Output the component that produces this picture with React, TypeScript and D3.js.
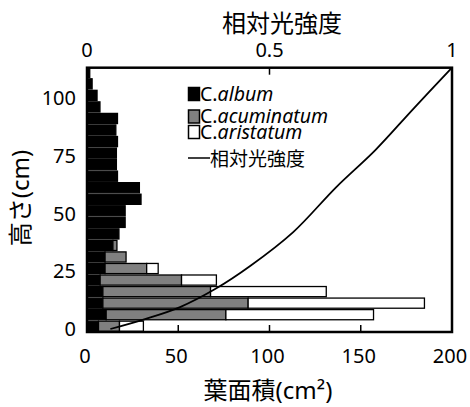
import React from "react";
import * as d3 from "d3";

// height bins (lower edge, cm), 5 cm each
const binStarts = [0, 5, 10, 15, 20, 25, 30, 35, 40, 45, 50, 55, 60, 65, 70, 75, 80, 85, 90, 95, 100, 105, 110];
const album = [6.3, 10.5, 8.7, 8.7, 7.2, 9.9, 9.9, 14.2, 17.5, 20.9, 20.9, 29.6, 28.7, 16.7, 16.1, 16.1, 16.7, 15.8, 16.7, 7.1, 5.5, 2.8, 1.5];
const acuminatum = [11.5, 65.6, 79.6, 59, 44.6, 22.8, 11.5, 2.2, 0, 0, 0, 0, 0, 0, 0, 0, 0, 0, 0, 0, 0, 0, 0];
const aristatum = [13.1, 80.9, 96.6, 63.4, 19.1, 6.3, 0, 0, 0, 0, 0, 0, 0, 0, 0, 0, 0, 0, 0, 0, 0, 0, 0];

const lightHeights = [1.3, 5.6, 10.8, 18.6, 28.6, 43.3, 62.8, 78.8, 97, 114.5];
const lightValues = [0.064, 0.159, 0.255, 0.351, 0.447, 0.565, 0.683, 0.79, 0.896, 1.0];

const yTicks = [0, 25, 50, 75, 100];
const xTicks = [0, 50, 100, 150, 200];
const topTicks = [0, 0.5, 1];
const topTickLabels = ["0", "0.5", "1"];

const FONT = "'Noto Sans', 'Noto Sans CJK JP', sans-serif";

export default function App() {
  const left = 87, right = 452, top = 67.7, bottom = 332;
  const x = d3.scaleLinear().domain([0, 200]).range([left, right]);
  const xl = d3.scaleLinear().domain([0, 1]).range([left, right]);
  const y = d3.scaleLinear().domain([0, 114.5]).range([bottom, top]);
  const binH = 5;
  const gap = 1.4;

  const rows = binStarts.map((b, i) => ({
    b,
    a: album[i],
    c: acuminatum[i],
    r: aristatum[i],
  }));

  const line = d3
    .line<number>()
    .x((_, i) => xl(lightValues[i]))
    .y((h) => y(h))
    .curve(d3.curveCatmullRom.alpha(0.5));

  const barRect = (x0: number, x1: number, b: number, fill: string, key: string) => {
    if (x1 - x0 <= 0) return null;
    const yTop = Math.max(y(b + binH), top);
    const yBot = y(b);
    return (
      <rect
        key={key}
        x={x(x0)}
        y={yTop + gap / 2}
        width={x(x1) - x(x0)}
        height={yBot - yTop - gap}
        fill={fill}
        stroke="#000"
        strokeWidth={1.3}
      />
    );
  };

  return (
    <svg
      width={470}
      height={407}
      style={{ position: "absolute", left: 0, top: 0, background: "#fff" }}
      fontFamily={FONT}
    >
      <rect x={0} y={0} width={470} height={407} fill="#fff" />
      {/* bars */}
      {rows.map((d, i) => (
        <g key={i}>
          {barRect(0, d.a, d.b, "#000", "a")}
          {barRect(d.a, d.a + d.c, d.b, "#808080", "c")}
          {barRect(d.a + d.c, d.a + d.c + d.r, d.b, "#fff", "r")}
        </g>
      ))}
      {/* light curve */}
      <path d={line(lightHeights) || ""} fill="none" stroke="#000" strokeWidth={1.8} />
      {/* frame */}
      <rect x={left} y={top} width={right - left} height={bottom - top} fill="none" stroke="#000" strokeWidth={2.5} />
      {/* bottom ticks */}
      {xTicks.slice(1, -1).map((t) => (
        <line key={t} x1={x(t)} x2={x(t)} y1={bottom} y2={bottom - 7} stroke="#000" strokeWidth={1.5} />
      ))}
      {/* top ticks */}
      {topTicks.slice(1, -1).map((t) => (
        <line key={t} x1={xl(t)} x2={xl(t)} y1={top} y2={top + 7} stroke="#000" strokeWidth={1.5} />
      ))}
      {/* bottom tick labels */}
      {xTicks.map((t) => (
        <text key={t} x={x(t) - 2} y={363} fontSize={20} textAnchor="middle" fill="#000">
          {t}
        </text>
      ))}
      {/* top tick labels */}
      {topTicks.map((t, i) => (
        <text key={t} x={xl(t)} y={57} fontSize={20} textAnchor="middle" fill="#000">
          {topTickLabels[i]}
        </text>
      ))}
      {/* left tick labels */}
      {yTicks.map((t) => (
        <text key={t} x={76} y={y(t) - 3} dy="0.35em" fontSize={20} textAnchor="end" fill="#000">
          {t}
        </text>
      ))}
      {/* axis titles */}
      <text x={282} y={32} fontSize={24} textAnchor="middle" fill="#000">
        相対光強度
      </text>
      <text x={268} y={399} fontSize={24} textAnchor="middle" fill="#000">
        葉面積(cm²)
      </text>
      <text transform="translate(29,198) rotate(-90)" fontSize={24} textAnchor="middle" fill="#000">
        高さ(cm)
      </text>
      {/* legend */}
      <g fontSize={19.5} fill="#000">
        <rect x={188.5} y={87.5} width={11} height={13} fill="#000" stroke="#000" strokeWidth={1.5} />
        <text x={200} y={101}>
          C.<tspan fontStyle="italic">album</tspan>
        </text>
        <rect x={188.5} y={110} width={11} height={13} fill="#808080" stroke="#000" strokeWidth={1.5} />
        <text x={200} y={123}>
          C.<tspan fontStyle="italic">acuminatum</tspan>
        </text>
        <rect x={188.5} y={125.5} width={11} height={13} fill="#fff" stroke="#000" strokeWidth={1.5} />
        <text x={200} y={138.5}>
          C.<tspan fontStyle="italic">aristatum</tspan>
        </text>
        <line x1={188} x2={210} y1={158} y2={158} stroke="#000" strokeWidth={1.5} />
        <text x={210} y={166} fontSize={19}>
          相対光強度
        </text>
      </g>
    </svg>
  );
}
